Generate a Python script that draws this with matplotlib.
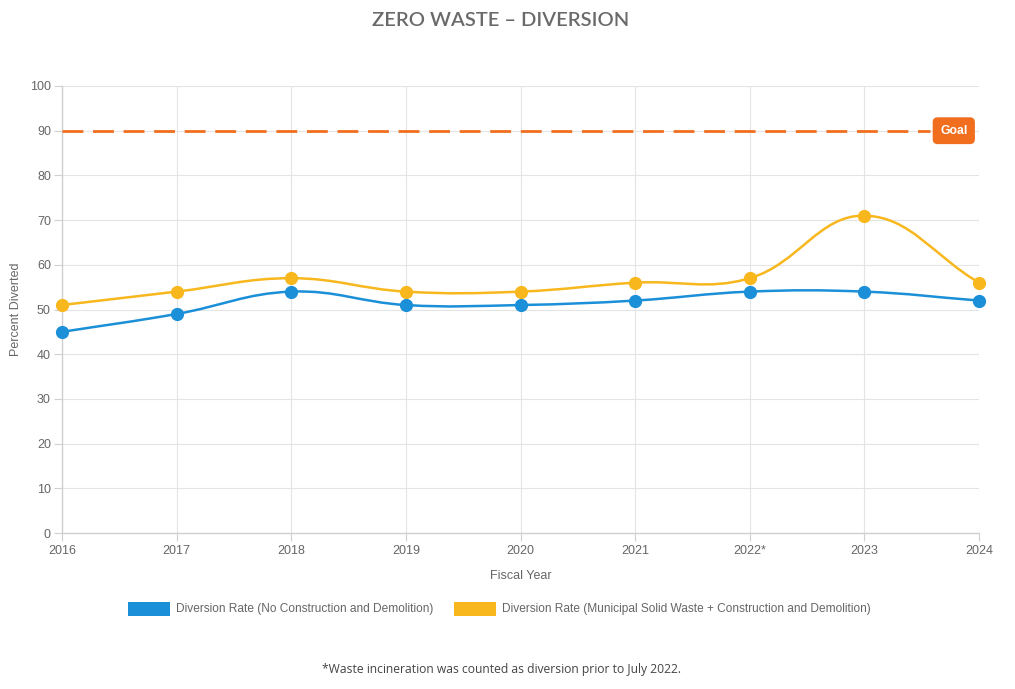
import matplotlib
matplotlib.use("Agg")
import matplotlib.pyplot as plt
import numpy as np
from matplotlib.path import Path
from matplotlib.patches import PathPatch, Rectangle

years = ["2016", "2017", "2018", "2019", "2020", "2021", "2022*", "2023", "2024"]
no_cd = [45, 49, 54, 51, 51, 52, 54, 54, 52]
msw_cd = [51, 54, 57, 54, 54, 56, 57, 71, 56]
goal = 90
y_ticks = [0, 10, 20, 30, 40, 50, 60, 70, 80, 90, 100]
series_labels = ["Diversion Rate (No Construction and Demolition)",
                 "Diversion Rate (Municipal Solid Waste + Construction and Demolition)"]

BLUE = "#1b8fd8"
YELLOW = "#f7b71d"
ORANGE = "#f06e1e"
GRID = "#e4e4e4"
TXT = "#666666"

W, H = 1015, 689
fig = plt.figure(figsize=(W / 100, H / 100), dpi=100)
fig.patch.set_facecolor("white")

x0, x1, ytop, ybot = 62, 979, 86, 533
ax = fig.add_axes([x0 / W, 1 - ybot / H, (x1 - x0) / W, (ybot - ytop) / H])
xs = np.arange(len(years))
ax.set_xlim(0, len(years) - 1)
ax.set_ylim(0, 100)
ax.set_yticks(y_ticks)
ax.set_xticks(xs)
ax.set_xticklabels(years)
for s in ["top", "right"]:
    ax.spines[s].set_visible(False)
for s in ["left", "bottom"]:
    ax.spines[s].set_color("#d0d0d0")
    ax.spines[s].set_linewidth(1)
ax.grid(True, color=GRID, linewidth=0.8)
ax.set_axisbelow(True)
ax.tick_params(axis="both", colors="#d0d0d0", labelcolor=TXT, labelsize=9, length=6, width=0.8)
ax.tick_params(axis="y", pad=2)
ax.tick_params(axis="x", pad=3)
for lab in ax.get_xticklabels() + ax.get_yticklabels():
    lab.set_fontfamily("Liberation Sans")

ax.set_xlabel("Fiscal Year", fontsize=9, color=TXT, family="Liberation Sans", labelpad=9)
ax.set_ylabel("Percent Diverted", fontsize=9, color=TXT, family="Liberation Sans", labelpad=6)


def spline_path(xv, yv, tension=0.4):
    pts = ax.transData.transform(np.column_stack([xv, yv]))
    n = len(pts)
    cps = []
    for i in range(n):
        prev = pts[i - 1] if i > 0 else pts[i]
        cur = pts[i]
        nxt = pts[i + 1] if i < n - 1 else pts[i]
        d01 = np.hypot(*(cur - prev))
        d12 = np.hypot(*(nxt - cur))
        tot = d01 + d12
        s01 = d01 / tot if tot else 0
        s12 = d12 / tot if tot else 0
        cp_prev = cur - tension * s01 * (nxt - prev)
        cp_next = cur + tension * s12 * (nxt - prev)
        cps.append((cp_prev, cp_next))
    verts = [pts[0]]
    codes = [Path.MOVETO]
    for i in range(1, n):
        verts += [cps[i - 1][1], cps[i][0], pts[i]]
        codes += [Path.CURVE4] * 3
    inv = ax.transData.inverted()
    return Path(inv.transform(np.array(verts)), codes)


for vals, col in [(msw_cd, YELLOW), (no_cd, BLUE)]:
    p = spline_path(xs, vals)
    ax.add_patch(PathPatch(p, facecolor="none", edgecolor=col, linewidth=1.8, zorder=3, clip_on=False))
    ax.plot(xs, vals, "o", color=col, markersize=8.5, zorder=4, clip_on=False)

# goal line
ax.plot([0, 7.57], [goal, goal], color=ORANGE, linewidth=2, dashes=(7.5, 3.5), zorder=3)
ax.text(7.78, goal, "Goal", color="white", fontsize=8.8, fontweight="bold",
        family="Liberation Sans", ha="center", va="center", zorder=6,
        bbox=dict(boxstyle="round,pad=0.55,rounding_size=0.35", facecolor=ORANGE, edgecolor=ORANGE))

# title
fig.text(501 / W, 1 - 21 / H, "ZERO WASTE \u2013 DIVERSION", ha="center", va="center",
         fontsize=14.5, fontweight="semibold", color="#6a6a6a", family="Lato")

# legend
def legend_item(xp, col, label):
    fig.patches.append(Rectangle((xp / W, 1 - 616 / H), 42 / W, 14 / H, facecolor=col,
                                 edgecolor="none", transform=fig.transFigure))
    fig.text((xp + 48) / W, 1 - 609 / H, label, ha="left", va="center", fontsize=8.6,
             color=TXT, family="Liberation Sans")

legend_item(128, BLUE, series_labels[0])
legend_item(454, YELLOW, series_labels[1])

fig.text(501 / W, 1 - 669 / H, "*Waste incineration was counted as diversion prior to July 2022.",
         ha="center", va="center", fontsize=8.7, color="#444444", family="Open Sans")

fig.savefig("out.png", dpi=100, facecolor="white")
